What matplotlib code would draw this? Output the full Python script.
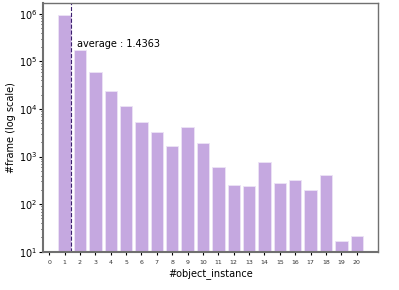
import numpy as np
import matplotlib
matplotlib.use("Agg")
import matplotlib.pyplot as plt

instances = list(range(1, 21))
frames = [930000, 170000, 61000, 24000, 11700, 5400, 3350, 1700, 4150, 1920,
          600, 247, 240, 760, 277, 316, 195, 415, 17, 21]
average = 1.4363

fig, ax = plt.subplots(figsize=(3.99, 2.90), dpi=100)
fig.subplots_adjust(left=0.108, right=0.948, top=0.99, bottom=0.132)

ax.bar(instances, frames, width=0.8, color="#c5a8e0", edgecolor="#ece3f5", linewidth=0.6)
ax.set_yscale("log")
ax.set_ylim(10, 1.7e6)
ax.set_xlim(-0.4, 21.4)
ax.set_xticks(range(0, 21))
ax.tick_params(axis="x", labelsize=4.5, length=2, pad=4, labelcolor="#333333")
ax.tick_params(axis="y", labelsize=7, length=3, pad=1)
ax.tick_params(axis="y", which="minor", length=1.5)

ax.axvline(average, color="#3b1f6e", linestyle="--", linewidth=0.8)
ax.text(average + 0.4, 2e5, "average : %.4f" % average, fontsize=7)

ax.set_xlabel("#object_instance", fontsize=7, labelpad=2)
ax.set_ylabel("#frame (log scale)", fontsize=7, labelpad=2)

for s in ax.spines.values():
    s.set_color("#707070")
    s.set_linewidth(1.0)
ax.spines["left"].set_linewidth(1.5)
ax.spines["bottom"].set_linewidth(1.5)

plt.savefig("out.png", dpi=100)
